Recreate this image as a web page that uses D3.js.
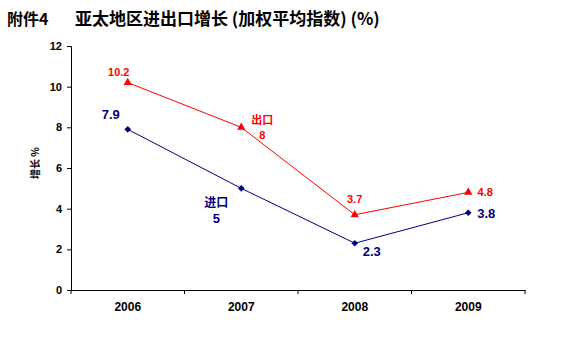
<!DOCTYPE html>
<html>
<head>
<meta charset="utf-8">
<script src="https://cdn.jsdelivr.net/npm/d3@7"></script>
<style>
  body { margin: 0; background: #fff; }
  svg { display: block; font-family: Arial, "Liberation Sans", "Noto Sans CJK SC", sans-serif; }
</style>
</head>
<body>
<svg id="chart" width="564" height="341"></svg>
<script>
// chart data
var years = ["2006", "2007", "2008", "2009"];
var exportVals = [10.2, 8, 3.7, 4.8];
var importVals = [7.9, 5, 2.3, 3.8];
var yTicks = [0, 2, 4, 6, 8, 10, 12];
var titleLeft = "附件4";
var titleRight = "亚太地区进出口增长 (加权平均指数) (%)";
var yLabel = "增长 %";

var svg = d3.select("#chart");
var margin = { left: 71, right: 39, top: 46, bottom: 51 };
var W = 564, H = 341;

var x = d3.scaleBand().domain(years).range([margin.left, W - margin.right]);
var y = d3.scaleLinear().domain([0, 12]).range([H - margin.bottom, margin.top]);

// title
svg.append("text").attr("x", 7).attr("y", 25)
    .attr("font-size", 16).attr("font-weight", "bold")
    .attr("font-family", "'Noto Sans CJK SC', sans-serif")
    .text(titleLeft);
svg.append("text").attr("x", 75).attr("y", 25)
    .attr("font-size", 17).attr("font-weight", "bold")
    .attr("font-family", "'Noto Sans CJK SC', sans-serif")
    .text(titleRight);

// y axis
var yAxis = svg.append("g")
    .attr("transform", "translate(" + margin.left + ",0)")
    .call(d3.axisLeft(y).tickValues(yTicks).tickSize(4).tickPadding(5));
yAxis.select(".domain").attr("stroke", "#000");
yAxis.selectAll("text").attr("font-size", 11).attr("font-weight", "bold")
    .attr("font-family", "Arial, sans-serif").attr("fill", "#000");

// x axis
var xAxis = svg.append("g")
    .attr("transform", "translate(0," + y(0) + ")")
    .call(d3.axisBottom(x).tickSize(0).tickPadding(12));
xAxis.select(".domain").attr("stroke", "#000");
xAxis.selectAll("text").attr("font-size", 12).attr("font-weight", "bold")
    .attr("font-family", "Arial, sans-serif").attr("fill", "#000");
// boundary ticks between categories
var bounds = years.map(function(d) { return x(d); }).concat([x.range()[1]]);
xAxis.selectAll("line.bnd").data(bounds).enter().append("line")
    .attr("class", "bnd")
    .attr("x1", function(d) { return d; }).attr("x2", function(d) { return d; })
    .attr("y1", 0).attr("y2", 4).attr("stroke", "#000");

// y label
svg.append("text")
    .attr("transform", "translate(39," + (y(6) - 5) + ") rotate(-90)")
    .attr("text-anchor", "middle")
    .attr("font-size", 10).attr("font-weight", "bold")
    .attr("font-family", "'Noto Sans CJK SC', sans-serif")
    .text(yLabel);

var cx = function(d, i) { return x(years[i]) + x.bandwidth() / 2; };
var line = d3.line().x(function(d, i) { return cx(d, i); }).y(function(d) { return y(d); });

var red = "#ff0000", navy = "#000080";

// import series
svg.append("path").datum(importVals).attr("d", line)
    .attr("fill", "none").attr("stroke", navy).attr("stroke-width", 1);
svg.selectAll("path.imp").data(importVals).enter().append("path")
    .attr("class", "imp")
    .attr("d", d3.symbol().type(d3.symbolSquare).size(22))
    .attr("transform", function(d, i) { return "translate(" + cx(d, i) + "," + y(d) + ") rotate(45)"; })
    .attr("fill", navy);

// export series
svg.append("path").datum(exportVals).attr("d", line)
    .attr("fill", "none").attr("stroke", red).attr("stroke-width", 1);
svg.selectAll("path.exp").data(exportVals).enter().append("path")
    .attr("class", "exp")
    .attr("d", d3.symbol().type(d3.symbolTriangle).size(30))
    .attr("transform", function(d, i) { return "translate(" + cx(d, i) + "," + y(d) + ")"; })
    .attr("fill", red);

// value labels (offsets from the point)
var expOff = [[-9, -7], [21, 12], [0, -12], [17, 4]];
var impOff = [[-17, -10], [-25, 35], [17, 13], [18, 5]];

svg.selectAll("text.expl").data(exportVals).enter().append("text")
    .attr("class", "expl")
    .attr("x", function(d, i) { return cx(d, i) + expOff[i][0]; })
    .attr("y", function(d, i) { return y(d) + expOff[i][1]; })
    .attr("text-anchor", "middle")
    .attr("font-size", 11).attr("font-weight", "bold").attr("fill", red)
    .text(function(d) { return d; });

svg.selectAll("text.impl").data(importVals).enter().append("text")
    .attr("class", "impl")
    .attr("x", function(d, i) { return cx(d, i) + impOff[i][0]; })
    .attr("y", function(d, i) { return y(d) + impOff[i][1]; })
    .attr("text-anchor", "middle")
    .attr("font-size", 13).attr("font-weight", "bold").attr("fill", navy)
    .text(function(d) { return d; });

// series names
svg.append("text")
    .attr("x", cx(0, 1) + 21).attr("y", y(exportVals[1]) - 3)
    .attr("text-anchor", "middle").attr("font-size", 11).attr("font-weight", "bold")
    .attr("font-family", "'Noto Sans CJK SC', sans-serif").attr("fill", red)
    .text("出口");
svg.append("text")
    .attr("x", cx(0, 1) - 25).attr("y", y(importVals[1]) + 19)
    .attr("text-anchor", "middle").attr("font-size", 12).attr("font-weight", "bold")
    .attr("font-family", "'Noto Sans CJK SC', sans-serif").attr("fill", navy)
    .text("进口");
</script>
</body>
</html>
